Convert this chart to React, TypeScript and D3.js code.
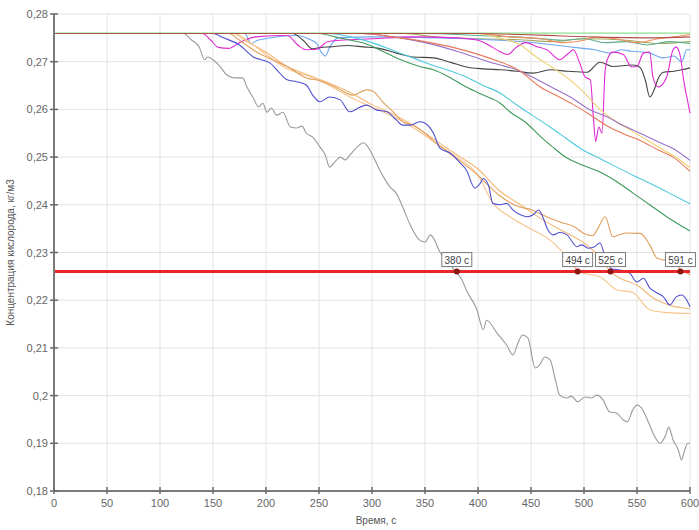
import React from "react";
import * as d3 from "d3";

type Pt = [number, number];

// Time axis (s) and oxygen concentration axis (kg/m3)
const xTicks = [0, 50, 100, 150, 200, 250, 300, 350, 400, 450, 500, 550, 600];
const yTicks = [0.18, 0.19, 0.2, 0.21, 0.22, 0.23, 0.24, 0.25, 0.26, 0.27, 0.28];
const yTickLabels = ["0,18", "0,19", "0,2", "0,21", "0,22", "0,23", "0,24", "0,25", "0,26", "0,27", "0,28"];

// Critical concentration level and the moments each run reaches it
const thresholdLevel = 0.226;
const crossingTimes = [380, 494, 525, 591];

const lightGreen: Pt[] = [[0, 0.276], [600, 0.276]];
const oliveRun: Pt[] = [[0, 0.2759], [330, 0.2759], [360, 0.2752], [400, 0.2748], [440, 0.2746], [470, 0.2742], [500, 0.2748], [540, 0.2745], [570, 0.2738], [600, 0.2742]];
const tealRun: Pt[] = [[0, 0.2759], [350, 0.2759], [400, 0.2755], [450, 0.275], [480, 0.2745], [500, 0.2748], [520, 0.274], [540, 0.2742], [560, 0.2735], [580, 0.2742], [600, 0.2738]];
const lightBlue: Pt[] = [[0, 0.2759], [180, 0.2759], [186, 0.2738], [192, 0.2745], [230, 0.2755], [240, 0.2748], [248, 0.2738], [252, 0.272], [256, 0.2712], [260, 0.273], [268, 0.275], [300, 0.2752], [360, 0.275], [420, 0.2745], [460, 0.2738], [490, 0.273], [510, 0.2725], [525, 0.2718], [535, 0.2725], [545, 0.2722], [562, 0.2718], [575, 0.2708], [585, 0.2712], [592, 0.27], [597, 0.2725], [600, 0.2725]];
const blackRun: Pt[] = [[0, 0.2759], [225, 0.2759], [235, 0.2745], [244, 0.2727], [252, 0.273], [260, 0.2731], [276, 0.2734], [292, 0.2731], [307, 0.2728], [323, 0.2718], [339, 0.271], [358, 0.2708], [375, 0.2698], [389, 0.2689], [405, 0.2685], [421, 0.2683], [437, 0.268], [452, 0.2676], [468, 0.2683], [485, 0.268], [503, 0.2678], [515, 0.2699], [527, 0.269], [546, 0.2693], [553, 0.2688], [558, 0.266], [562, 0.2626], [566, 0.264], [570, 0.2665], [575, 0.2678], [585, 0.268], [592, 0.2683], [600, 0.2687]];
const magentaRun: Pt[] = [[0, 0.2759], [140, 0.2759], [148, 0.2745], [155, 0.273], [165, 0.2728], [175, 0.274], [190, 0.2752], [220, 0.2755], [230, 0.2735], [238, 0.2725], [248, 0.2726], [258, 0.2742], [270, 0.2745], [300, 0.2748], [340, 0.2752], [380, 0.275], [400, 0.2745], [410, 0.2735], [420, 0.2722], [428, 0.2715], [436, 0.273], [445, 0.274], [455, 0.2732], [465, 0.2725], [477, 0.2704], [484, 0.2715], [490, 0.2725], [496, 0.2697], [501, 0.2668], [506, 0.2662], [509, 0.2578], [511, 0.2533], [514, 0.2563], [517, 0.255], [520, 0.2683], [523, 0.271], [527, 0.272], [537, 0.2715], [545, 0.2689], [550, 0.269], [556, 0.2718], [562, 0.272], [565, 0.2668], [570, 0.2647], [578, 0.2668], [584, 0.2725], [587, 0.2731], [591, 0.271], [594, 0.2662], [597, 0.2626], [600, 0.2592]];
const yellowRun: Pt[] = [[0, 0.2759], [400, 0.2759], [420, 0.275], [440, 0.2735], [455, 0.271], [470, 0.2688], [485, 0.2665], [500, 0.2635], [515, 0.26], [530, 0.2575], [545, 0.2555], [560, 0.2535], [575, 0.2515], [590, 0.2495], [600, 0.2478]];
const purpleRun: Pt[] = [[0, 0.2759], [290, 0.2759], [320, 0.2752], [350, 0.274], [380, 0.2722], [410, 0.27], [440, 0.268], [458, 0.266], [475, 0.264], [490, 0.2622], [505, 0.26], [522, 0.2584], [538, 0.2565], [553, 0.255], [570, 0.2532], [584, 0.2518], [600, 0.2493]];
const coralRun: Pt[] = [[0, 0.2759], [290, 0.2759], [320, 0.2752], [350, 0.2742], [380, 0.2728], [410, 0.2708], [440, 0.268], [458, 0.2648], [475, 0.2628], [490, 0.261], [505, 0.259], [522, 0.2565], [538, 0.2548], [553, 0.2535], [570, 0.2515], [584, 0.25], [600, 0.247]];
const cyanRun: Pt[] = [[0, 0.2759], [260, 0.2759], [280, 0.2752], [300, 0.274], [323, 0.2721], [340, 0.2707], [358, 0.2692], [375, 0.268], [389, 0.2668], [405, 0.265], [421, 0.2634], [435, 0.2612], [446, 0.2595], [458, 0.2578], [468, 0.2563], [484, 0.2538], [499, 0.2515], [515, 0.2497], [531, 0.2479], [546, 0.2462], [562, 0.2445], [580, 0.2425], [600, 0.2402]];
const greenRun: Pt[] = [[0, 0.2759], [250, 0.2759], [265, 0.2752], [280, 0.2745], [292, 0.2739], [310, 0.2722], [326, 0.2705], [345, 0.269], [358, 0.2683], [375, 0.2665], [389, 0.2647], [405, 0.263], [421, 0.2613], [430, 0.2595], [446, 0.2571], [458, 0.2545], [470, 0.2522], [484, 0.2498], [500, 0.2482], [515, 0.2469], [530, 0.245], [546, 0.2425], [562, 0.24], [578, 0.2375], [590, 0.2358], [600, 0.2345]];
const orangeC: Pt[] = [[0, 0.2759], [170, 0.2759], [180, 0.2745], [200, 0.272], [220, 0.269], [240, 0.2672], [260, 0.2655], [280, 0.2635], [300, 0.261], [320, 0.259], [340, 0.2565], [360, 0.2535], [380, 0.2505], [400, 0.2475], [420, 0.243], [440, 0.24], [460, 0.237], [480, 0.2345], [500, 0.232], [515, 0.229], [525, 0.226], [535, 0.2245], [550, 0.2232], [565, 0.2205], [580, 0.219], [600, 0.2182]];
const orangeB: Pt[] = [[0, 0.2759], [170, 0.2759], [185, 0.274], [200, 0.2715], [220, 0.2685], [240, 0.267], [260, 0.265], [280, 0.2625], [300, 0.2605], [320, 0.2585], [340, 0.256], [360, 0.253], [380, 0.25], [400, 0.2462], [414, 0.2404], [430, 0.2375], [447, 0.2353], [468, 0.2326], [484, 0.2291], [496, 0.2259], [515, 0.2249], [531, 0.2222], [546, 0.2216], [562, 0.218], [578, 0.2174], [600, 0.2172]];
const orangeA: Pt[] = [[0, 0.2759], [165, 0.2759], [175, 0.2745], [190, 0.2722], [205, 0.2705], [220, 0.269], [238, 0.2666], [251, 0.266], [267, 0.2645], [282, 0.263], [295, 0.2641], [301, 0.2638], [310, 0.2616], [320, 0.2595], [329, 0.2574], [339, 0.2567], [350, 0.255], [360, 0.253], [375, 0.2505], [390, 0.248], [400, 0.2462], [410, 0.244], [420, 0.242], [430, 0.2405], [440, 0.2395], [450, 0.239], [460, 0.238], [470, 0.237], [480, 0.2362], [490, 0.2355], [500, 0.234], [508, 0.2335], [513, 0.235], [520, 0.2375], [527, 0.2333], [540, 0.2341], [553, 0.234], [562, 0.2316], [569, 0.2288], [578, 0.2284], [584, 0.2291], [591, 0.2263], [597, 0.2257], [600, 0.2253]];
const blueRun: Pt[] = [[0, 0.2759], [150, 0.2759], [160, 0.275], [175, 0.2735], [188, 0.271], [204, 0.2697], [213, 0.2676], [220, 0.2662], [229, 0.2658], [238, 0.2651], [244, 0.263], [251, 0.2616], [260, 0.2626], [270, 0.262], [279, 0.2595], [289, 0.2605], [295, 0.2609], [304, 0.2599], [314, 0.2595], [323, 0.2578], [329, 0.2567], [336, 0.2567], [345, 0.2574], [350, 0.2571], [358, 0.255], [364, 0.2519], [374, 0.2508], [383, 0.2488], [389, 0.2473], [397, 0.2435], [402, 0.2445], [405, 0.2455], [410, 0.244], [414, 0.2403], [421, 0.24], [427, 0.2403], [433, 0.2389], [440, 0.2379], [447, 0.2375], [452, 0.2379], [457, 0.2389], [461, 0.2375], [466, 0.2347], [471, 0.2337], [477, 0.2342], [484, 0.2337], [489, 0.2322], [493, 0.2312], [498, 0.2316], [504, 0.2309], [510, 0.2312], [515, 0.232], [520, 0.2291], [526, 0.2266], [534, 0.2263], [543, 0.2257], [550, 0.2238], [556, 0.2246], [562, 0.2226], [569, 0.2215], [575, 0.2207], [581, 0.219], [587, 0.2207], [592, 0.2211], [597, 0.22], [600, 0.2186]];
const grayRun: Pt[] = [[0, 0.2759], [122, 0.2759], [130, 0.2745], [137, 0.2731], [142, 0.2704], [145, 0.271], [150, 0.2704], [157, 0.2689], [163, 0.2672], [171, 0.2666], [178, 0.2666], [182, 0.2647], [188, 0.2624], [193, 0.2605], [197, 0.2613], [201, 0.2594], [205, 0.2603], [210, 0.2588], [216, 0.2594], [223, 0.2563], [229, 0.2561], [234, 0.2565], [238, 0.255], [244, 0.2542], [251, 0.2521], [256, 0.2504], [260, 0.2479], [265, 0.249], [270, 0.25], [275, 0.2494], [279, 0.2504], [286, 0.2521], [292, 0.253], [298, 0.2515], [304, 0.2488], [311, 0.2458], [317, 0.2437], [323, 0.2424], [329, 0.2395], [336, 0.2358], [345, 0.2326], [350, 0.2322], [355, 0.2337], [359, 0.2326], [364, 0.2301], [371, 0.2284], [378, 0.2262], [385, 0.2242], [389, 0.2221], [399, 0.218], [405, 0.2138], [408, 0.2158], [418, 0.2131], [427, 0.2106], [433, 0.2085], [438, 0.2112], [442, 0.2127], [447, 0.2121], [454, 0.2058], [458, 0.2064], [463, 0.2081], [468, 0.2075], [473, 0.2033], [477, 0.2001], [484, 0.1995], [488, 0.1999], [494, 0.1987], [501, 0.1997], [507, 0.1995], [512, 0.2001], [518, 0.1991], [524, 0.1966], [531, 0.1963], [537, 0.1949], [541, 0.1945], [546, 0.197], [550, 0.198], [554, 0.1975], [561, 0.1943], [567, 0.1913], [572, 0.19], [577, 0.1917], [580, 0.1934], [584, 0.1907], [589, 0.1886], [592, 0.1865], [595, 0.1886], [598, 0.19], [600, 0.19]];
const brownRun: Pt[] = [[0, 0.2759], [400, 0.2759], [440, 0.2757], [480, 0.2754], [520, 0.2751], [560, 0.275], [600, 0.2752]];
const topCoral: Pt[] = [[0, 0.2759], [400, 0.2759], [430, 0.2752], [460, 0.2748], [480, 0.274], [500, 0.2745], [510, 0.2752], [530, 0.2748], [550, 0.274], [570, 0.2748], [585, 0.2752], [600, 0.2757]];

const runs: { data: Pt[]; color: string }[] = [
  { data: lightGreen, color: "#8fe08f" },
  { data: oliveRun, color: "#a8a860" },
  { data: tealRun, color: "#5fae8c" },
  { data: lightBlue, color: "#6ea8f0" },
  { data: blackRun, color: "#454545" },
  { data: magentaRun, color: "#e02ad2" },
  { data: yellowRun, color: "#f0d070" },
  { data: purpleRun, color: "#9a72c8" },
  { data: coralRun, color: "#e8785a" },
  { data: cyanRun, color: "#4fcadc" },
  { data: greenRun, color: "#3f9a5c" },
  { data: orangeC, color: "#f3b878" },
  { data: orangeB, color: "#f8c48c" },
  { data: orangeA, color: "#e0a060" },
  { data: blueRun, color: "#5050d0" },
  { data: grayRun, color: "#9a9a9a" },
  { data: topCoral, color: "#f09060" },
  { data: brownRun, color: "#b05048" },
];

const W = 699;
const H = 530;
const M = { left: 54, right: 9, top: 14, bottom: 39 };
const FONT = "'Liberation Sans', Arial, sans-serif";

export default function App() {
  const x = d3.scaleLinear().domain([0, 600]).range([M.left, W - M.right]);
  const y = d3.scaleLinear().domain([0.18, 0.28]).range([H - M.bottom, M.top]);
  const line = d3
    .line<Pt>()
    .x((d) => x(d[0]))
    .y((d) => y(d[1]))
    .curve(d3.curveMonotoneX);

  const x0 = x(0);
  const x1 = x(600);
  const yB = y(0.18);
  const yT = y(0.28);

  return (
    <svg
      width={W}
      height={H}
      style={{ position: "absolute", left: 0, top: 0, background: "#fff" }}
      fontFamily={FONT}
    >
      {/* grid */}
      {xTicks.map((t) => (
        <line key={"gx" + t} x1={x(t)} x2={x(t)} y1={yT} y2={yB} stroke="#e3e3e3" strokeWidth={1} />
      ))}
      {yTicks.map((t) => (
        <line key={"gy" + t} x1={x0} x2={x1} y1={y(t)} y2={y(t)} stroke="#e3e3e3" strokeWidth={1} />
      ))}

      {/* runs */}
      {runs.map((r, i) => (
        <path key={"r" + i} d={line(r.data) || ""} fill="none" stroke={r.color} strokeWidth={1.1} strokeLinejoin="round" />
      ))}

      {/* critical level */}
      <line x1={x0} x2={x1} y1={y(thresholdLevel)} y2={y(thresholdLevel)} stroke="#e8262a" strokeWidth={3} />
      {crossingTimes.map((t) => (
        <g key={"c" + t}>
          <circle cx={x(t)} cy={y(thresholdLevel)} r={3} fill="#8a1616" />
          <rect x={x(t) - 15} y={y(thresholdLevel) - 19} width={30} height={14} fill="#fff" stroke="#7a7a7a" strokeWidth={1} />
          <text x={x(t)} y={y(thresholdLevel) - 8} textAnchor="middle" fontSize={10} fill="#444">
            {t} с
          </text>
        </g>
      ))}

      {/* axes */}
      <line x1={x0} x2={x0} y1={yT} y2={yB} stroke="#7a7a7a" strokeWidth={2} />
      <line x1={x0} x2={x1} y1={yB} y2={yB} stroke="#7a7a7a" strokeWidth={2} />
      {yTicks.map((t, i) => (
        <g key={"ty" + t}>
          <line x1={x0 - 4} x2={x0 + 4} y1={y(t)} y2={y(t)} stroke="#6a6a6a" strokeWidth={1.5} />
          <text x={48} y={y(t) + 4} textAnchor="end" fontSize={11} fill="#666">
            {yTickLabels[i]}
          </text>
        </g>
      ))}
      {xTicks.map((t) => (
        <g key={"tx" + t}>
          <line x1={x(t)} x2={x(t)} y1={yB - 4} y2={yB + 3} stroke="#6a6a6a" strokeWidth={1.5} />
          <text x={x(t)} y={yB + 16} textAnchor="middle" fontSize={11} fill="#666">
            {t}
          </text>
        </g>
      ))}

      <text x={(x0 + x1) / 2 + 4} y={H - 6} textAnchor="middle" fontSize={10} fill="#555">
        Время, с
      </text>
      <text transform={`translate(14,${(yT + yB) / 2}) rotate(-90)`} textAnchor="middle" fontSize={10} fill="#555">
        Концентрация кислорода, кг/м3
      </text>
    </svg>
  );
}
